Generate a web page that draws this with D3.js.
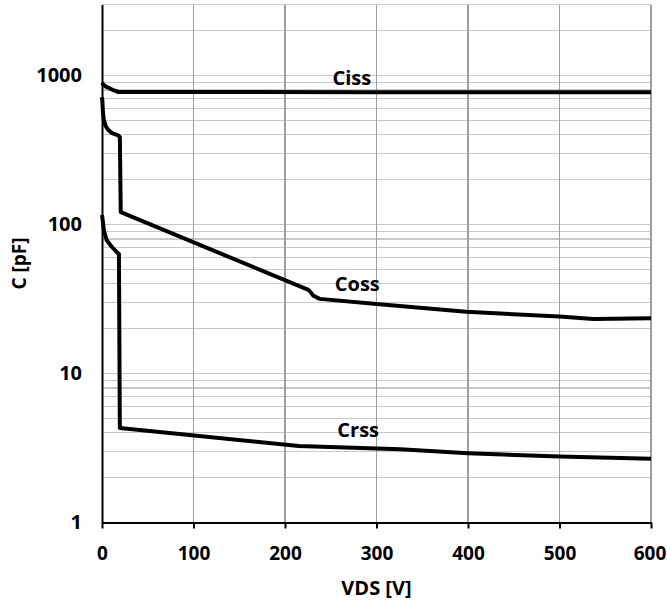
<!DOCTYPE html>
<html>
<head>
<meta charset="utf-8">
<script src="https://cdn.jsdelivr.net/npm/d3@7"></script>
<style>
  body { margin: 0; background: #fff; }
  text { font-family: "Open Sans", sans-serif; font-weight: bold; }
</style>
</head>
<body>
<div id="container"><svg></svg></div>
<script>
// VDS [V] / C [pF]
let ciss_v = [0, 2, 5, 8.7, 13, 18, 100, 300, 600];
let ciss_c = [895, 863, 838, 820, 795, 776, 776, 774, 774];

let coss_v = [0, 0.5, 1, 2, 4, 7, 11, 17, 19.5, 20.5, 225, 228, 231, 238, 300, 398, 500, 537, 600];
let coss_c = [717, 660, 569, 502, 458, 431, 411, 399, 387, 121, 36.6, 35.2, 33.3, 31.7, 29.3, 26.0, 24.1, 23.2, 23.5];

let crss_v = [0, 0.5, 1, 2, 5, 10, 16, 18.5, 19.5, 215, 326, 400, 500, 600];
let crss_c = [116, 110, 104, 91.9, 78.7, 71.8, 65.4, 63.4, 4.31, 3.26, 3.10, 2.92, 2.77, 2.68];

let labels = [
    {name: 'Ciss', v: 273, c: 863},
    {name: 'Coss', v: 279, c: 35.8},
    {name: 'Crss', v: 280, c: 3.75}
];

let x_ticks = [0, 100, 200, 300, 400, 500, 600];
let y_ticks = [1, 10, 100, 1000];

function draw_main(width, height) {
    let padding = {left: 102, right: 16, top: 4.5, bottom: 80.5};
    let svg = d3.select('#container').select('svg')
        .attr('width', width)
        .attr('height', height);

    let x = d3.scaleLinear()
        .domain([0, 600])
        .range([padding.left, width - padding.right]);
    let y = d3.scaleLog()
        .domain([1, 3000])
        .range([height - padding.bottom, padding.top]);

    // minor horizontal grid 1..9 per decade
    let minor = [];
    for (let d = 1; d <= 1000; d *= 10)
        for (let k = 1; k <= 9; k++)
            if (k * d <= 3000) minor.push(k * d);
    svg.append('g')
        .selectAll('line')
        .data(minor)
        .enter().append('line')
        .attr('x1', x(0)).attr('x2', x(600))
        .attr('y1', d => y(d)).attr('y2', d => y(d))
        .attr('stroke', '#c8c8c8')
        .attr('stroke-width', 1.2)
        .attr('shape-rendering', 'crispEdges');

    // vertical grid
    svg.append('g')
        .selectAll('line')
        .data(x_ticks.slice(1))
        .enter().append('line')
        .attr('x1', d => x(d)).attr('x2', d => x(d))
        .attr('y1', y(1)).attr('y2', y(3000))
        .attr('stroke', '#9e9e9e')
        .attr('stroke-width', 1.2)
        .attr('shape-rendering', 'crispEdges');

    // x axis
    let axis_x = d3.axisBottom(x)
        .tickValues(x_ticks)
        .tickSize(6)
        .tickPadding(18)
        .tickSizeOuter(0)
        .tickFormat(d => d);
    let gx = svg.append('g')
        .attr('transform', `translate(0, ${y(1)})`)
        .call(axis_x);
    gx.select('.domain').attr('stroke', '#000').attr('stroke-width', 2);
    gx.selectAll('.tick line').attr('stroke', '#000').attr('stroke-width', 2);
    gx.selectAll('text').attr('font-size', 19).attr('fill', '#000')
        .attr('font-family', '"Open Sans", sans-serif');
    // keep the last label inside the page
    gx.selectAll('.tick text').filter(d => d === 600).attr('dx', -1.5);

    // y axis
    let axis_y = d3.axisLeft(y)
        .tickValues(y_ticks)
        .tickSize(0)
        .tickPadding(20)
        .tickFormat(d => d);
    let gy = svg.append('g')
        .attr('transform', `translate(${x(0)}, 0)`)
        .call(axis_y);
    gy.select('.domain').attr('stroke', '#000').attr('stroke-width', 2);
    gy.selectAll('text').attr('font-size', 20).attr('fill', '#000')
        .attr('font-family', '"Open Sans", sans-serif');

    // axis titles
    svg.append('text')
        .attr('x', (x(0) + x(600)) / 2)
        .attr('y', 595)
        .attr('text-anchor', 'middle')
        .attr('font-size', 20)
        .text('VDS [V]');
    svg.append('text')
        .attr('transform', `translate(26, ${(y(1) + y(3000)) / 2}) rotate(-90)`)
        .attr('text-anchor', 'middle')
        .attr('font-size', 19)
        .text('C [pF]');

    // curves
    let line = d3.line()
        .x(d => x(d[0]))
        .y(d => y(d[1]));
    let series = [
        d3.zip(ciss_v, ciss_c),
        d3.zip(coss_v, coss_c),
        d3.zip(crss_v, crss_c)
    ];
    svg.append('g')
        .selectAll('path')
        .data(series)
        .enter().append('path')
        .attr('d', line)
        .attr('fill', 'none')
        .attr('stroke', '#000')
        .attr('stroke-width', 4)
        .attr('stroke-linejoin', 'round');

    // curve labels
    svg.append('g')
        .selectAll('text')
        .data(labels)
        .enter().append('text')
        .attr('x', d => x(d.v))
        .attr('y', d => y(d.c))
        .attr('text-anchor', 'middle')
        .attr('font-size', 20)
        .text(d => d.name);
}

draw_main(667, 603);
</script>
</body>
</html>
